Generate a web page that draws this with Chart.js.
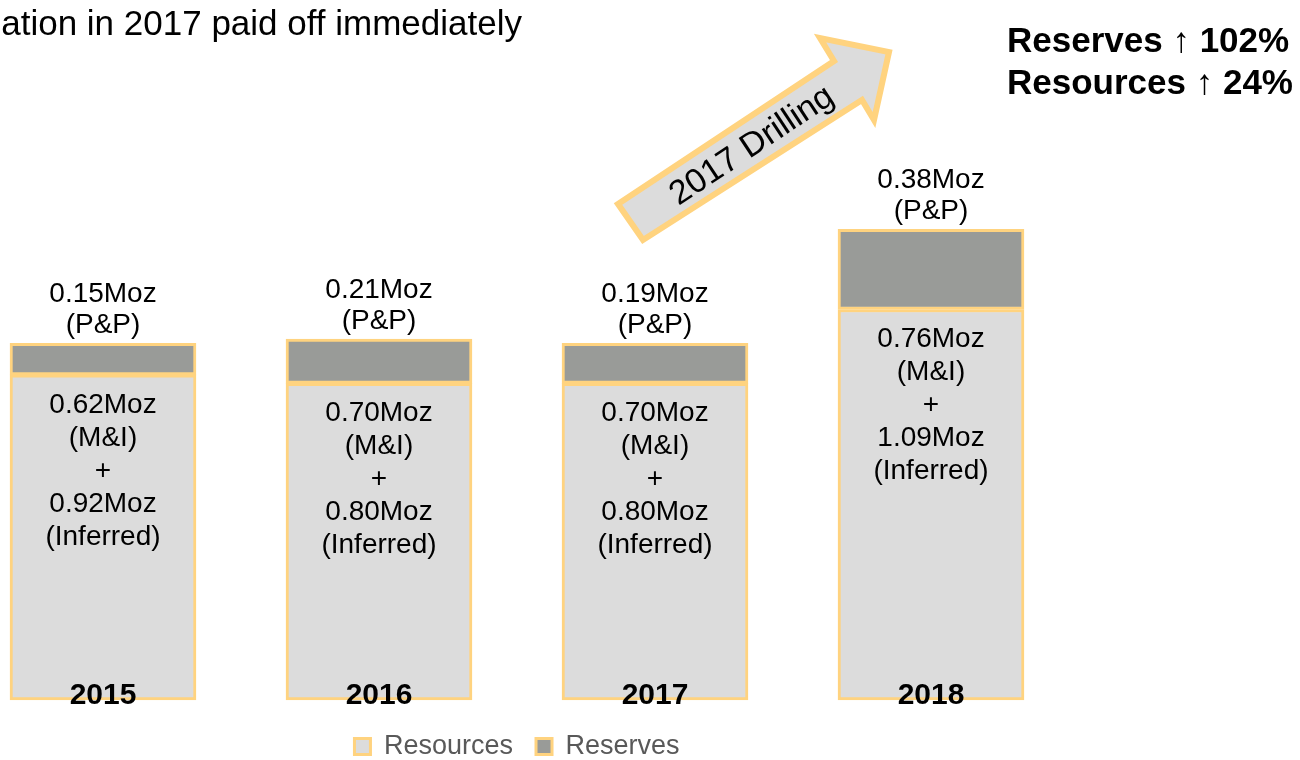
<!DOCTYPE html>
<html>
<head>
<meta charset="utf-8">
<script src="https://cdn.jsdelivr.net/npm/chart.js@4.4.1/dist/chart.umd.min.js"></script>
<style>
  html, body { margin: 0; padding: 0; background: #fff; }
  #wrap { width: 1300px; height: 760px; position: relative; }
</style>
</head>
<body>
<div id="wrap"><canvas id="reserveChart"></canvas></div>
<script>
const years = ['2015', '2016', '2017', '2018'];
const resources = [1.54, 1.50, 1.50, 1.85];
const reserves = [0.15, 0.21, 0.19, 0.38];
const reserveLabels = ['0.15Moz', '0.21Moz', '0.19Moz', '0.38Moz'];
const measuredLabels = ['0.62Moz', '0.70Moz', '0.70Moz', '0.76Moz'];
const inferredLabels = ['0.92Moz', '0.80Moz', '0.80Moz', '1.09Moz'];

const FONT = '"Liberation Sans", Arial, sans-serif';
const yellow = '#FFD37F';

// text on and around the bars
const barText = {
    id: 'barText',
    afterDatasetsDraw(chart) {
        const ctx = chart.ctx;
        const resMeta = chart.getDatasetMeta(0);
        const rsvMeta = chart.getDatasetMeta(1);
        ctx.save();
        ctx.fillStyle = '#000';
        ctx.textAlign = 'center';
        ctx.textBaseline = 'alphabetic';
        years.forEach((yr, i) => {
            const top = rsvMeta.data[i];
            const seg = resMeta.data[i];
            ctx.font = '28px ' + FONT;
            ctx.fillText(reserveLabels[i], top.x, top.y - 41);
            ctx.fillText('(P&P)', top.x, top.y - 10);
            const lines = [measuredLabels[i], '(M&I)', '+', inferredLabels[i], '(Inferred)'];
            lines.forEach((t, k) => ctx.fillText(t, seg.x, seg.y + 38 + k * 33));
            ctx.font = 'bold 30px ' + FONT;
            ctx.fillText(yr, seg.x, seg.base + 4);
        });
        ctx.restore();
    }
};

// title, growth note and the drilling arrow
const extras = {
    id: 'extras',
    afterDraw(chart) {
        const ctx = chart.ctx;
        ctx.save();
        ctx.fillStyle = '#000';
        ctx.font = '35px ' + FONT;
        ctx.textAlign = 'right';
        ctx.fillText('ation in 2017 paid off immediately', 522, 25);

        ctx.font = 'bold 35px ' + FONT;
        ctx.textAlign = 'left';
        ctx.fillText('Reserves \u2191 102%', 1007, 42);
        ctx.fillText('Resources \u2191 24%', 1007, 84);

        ctx.beginPath();
        ctx.moveTo(618, 204);
        ctx.lineTo(834, 61);
        ctx.lineTo(820, 38);
        ctx.lineTo(889, 52);
        ctx.lineTo(874, 120);
        ctx.lineTo(862, 100);
        ctx.lineTo(643, 240);
        ctx.closePath();
        ctx.fillStyle = '#DCDCDC';
        ctx.fill();
        ctx.lineWidth = 6;
        ctx.lineJoin = 'miter';
        ctx.strokeStyle = yellow;
        ctx.stroke();

        ctx.translate(752, 146);
        ctx.rotate(-33.5 * Math.PI / 180);
        ctx.fillStyle = '#000';
        ctx.font = '34px ' + FONT;
        ctx.textAlign = 'center';
        ctx.textBaseline = 'middle';
        ctx.fillText('2017 Drilling', 0, 0);
        ctx.restore();
    }
};

const ctx = document.getElementById('reserveChart').getContext('2d');
new Chart(ctx, {
    type: 'bar',
    data: {
        labels: years,
        datasets: [{
            label: 'Resources',
            data: resources,
            backgroundColor: '#DCDCDC',
            borderColor: yellow,
            borderWidth: 3,
            borderSkipped: false,
            barThickness: 186,
            clip: false
        }, {
            label: 'Reserves',
            data: reserves,
            backgroundColor: '#999B98',
            borderColor: yellow,
            borderWidth: 3,
            borderSkipped: false,
            barThickness: 186,
            clip: false
        }]
    },
    options: {
        responsive: true,
        maintainAspectRatio: false,
        animation: false,
        devicePixelRatio: 1,
        layout: { padding: { left: 103, right: 369, top: 0, bottom: -10 } },
        scales: {
            x: { stacked: true, offset: false, display: false },
            y: { stacked: true, display: false, min: -0.0475, max: 3.316 }
        },
        plugins: {
            legend: {
                position: 'bottom',
                labels: {
                    boxWidth: 16,
                    boxHeight: 16,
                    padding: 23,
                    color: '#595959',
                    font: { size: 27, family: FONT }
                }
            },
            tooltip: { enabled: false }
        }
    },
    plugins: [barText, extras]
});
</script>
</body>
</html>
